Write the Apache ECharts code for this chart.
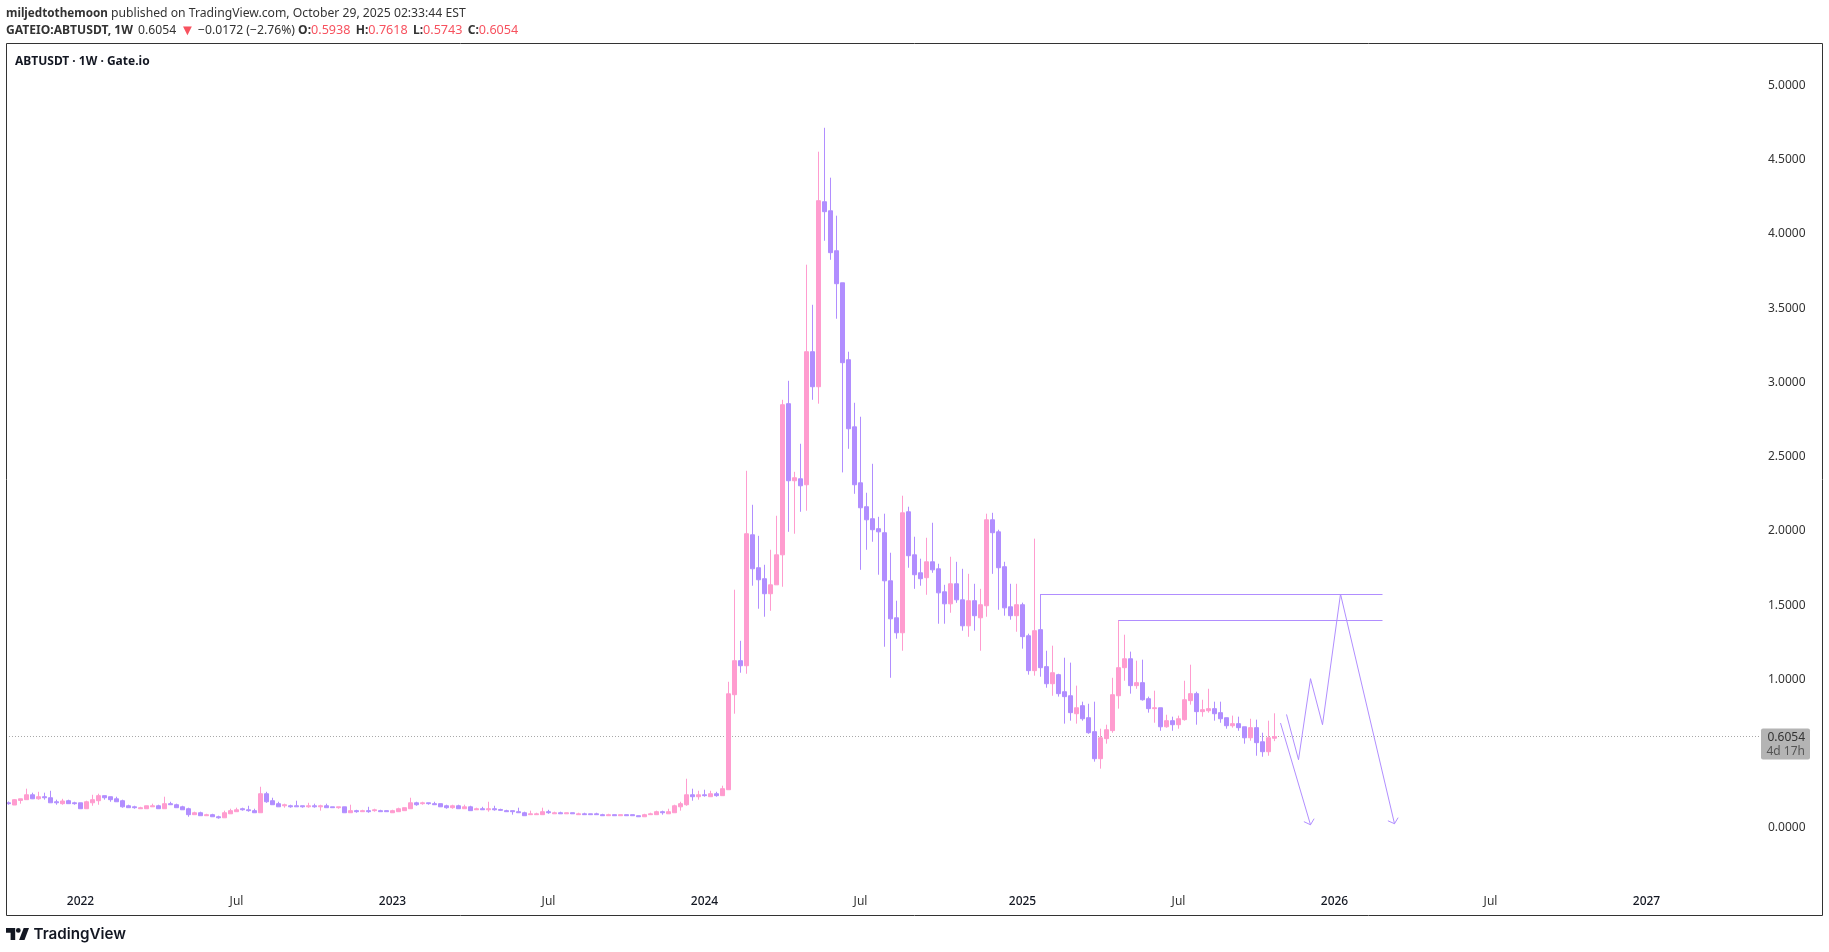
<!DOCTYPE html>
<html>
<head>
<meta charset="utf-8">
<title>ABTUSDT 1W</title>
<script src="https://cdn.jsdelivr.net/npm/echarts@6/dist/echarts.min.js"></script>
<style>
html, body { margin: 0; padding: 0; background: #fff; }
#chart { width: 1829px; height: 952px; }
</style>
</head>
<body>
<div id="chart"></div>
<script>
// weekly candles, [open, close, low, high]
const candles2021 = [
  [.159,.153,.146,.168],[.144,.180,.144,.184],[.175,.186,.153,.186],[.180,.213,.180,.254],[.213,.186,.184,.227],
  [.186,.200,.180,.233],[.200,.193,.180,.227],[.193,.159,.159,.240],[.166,.159,.146,.180],[.153,.171,.146,.186],
  [.173,.153,.153,.180],[.159,.153,.146,.166]
];
const candles2022 = [
  [.159,.119,.119,.159],[.119,.166,.119,.173],[.159,.180,.139,.213],[.173,.207,.146,.220],[.207,.193,.180,.207],
  [.200,.180,.166,.200],[.186,.166,.166,.200],[.173,.132,.126,.180],[.139,.126,.126,.146],[.132,.126,.119,.139],
  [.119,.126,.119,.132],[.119,.139,.119,.139],[.132,.139,.132,.153],[.139,.119,.119,.146],[.119,.153,.119,.200],
  [.153,.146,.146,.166],[.146,.126,.126,.153],[.132,.112,.112,.139],[.119,.079,.065,.126],[.079,.092,.079,.099],
  [.092,.072,.072,.099],[.072,.079,.072,.085],[.079,.065,.065,.085],[.065,.058,.052,.072],[.058,.092,.058,.106],
  [.085,.106,.085,.119],[.099,.112,.099,.126],[.119,.112,.106,.126],[.112,.106,.099,.139],[.106,.092,.092,.119],
  [.092,.220,.092,.267],[.220,.166,.159,.233],[.173,.146,.146,.193],[.153,.132,.132,.166],[.139,.146,.126,.153],
  [.139,.132,.126,.146],[.139,.132,.132,.173],[.139,.132,.126,.139],[.132,.139,.126,.159],[.139,.132,.126,.153],
  [.132,.139,.106,.146],[.139,.126,.126,.153],[.132,.126,.126,.132],[.126,.132,.119,.132],[.132,.092,.092,.132],
  [.092,.106,.092,.146],[.106,.099,.092,.112],[.099,.106,.099,.112],[.106,.099,.092,.132],[.106,.112,.099,.119],
  [.106,.099,.099,.112],[.106,.099,.099,.106]
];
const candles2023 = [
  [.092,.106,.092,.112],[.099,.119,.099,.126],[.106,.126,.106,.126],[.119,.159,.119,.193],[.159,.146,.139,.166],
  [.153,.159,.146,.166],[.159,.153,.146,.159],[.153,.146,.146,.166],[.153,.132,.132,.153],[.139,.126,.119,.146],
  [.126,.139,.119,.146],[.139,.119,.119,.146],[.119,.132,.119,.146],[.132,.106,.106,.139],[.112,.119,.112,.126],
  [.119,.112,.112,.132],[.112,.119,.099,.166],[.119,.112,.106,.139],[.114,.108,.106,.119],[.106,.099,.099,.112],
  [.106,.099,.079,.106],[.099,.092,.092,.126],[.092,.072,.072,.099],[.079,.085,.079,.106],[.079,.085,.079,.092],
  [.079,.099,.079,.126],[.099,.092,.085,.112],[.085,.092,.085,.099],[.092,.085,.085,.099],[.085,.092,.085,.092],
  [.092,.085,.085,.092],[.079,.085,.079,.092],[.085,.079,.079,.092],[.085,.079,.079,.085],[.085,.079,.079,.092],
  [.079,.072,.072,.085],[.072,.079,.072,.085],[.079,.072,.072,.079],[.072,.079,.072,.079],[.079,.072,.072,.079],
  [.079,.072,.072,.079],[.072,.065,.065,.072],[.065,.079,.065,.085],[.079,.085,.079,.092],[.079,.099,.079,.106],
  [.099,.092,.079,.106],[.085,.099,.085,.119],[.092,.139,.092,.146],[.132,.153,.106,.166],[.146,.213,.139,.321],
  [.213,.200,.173,.254],[.200,.213,.180,.240]
];
const candles2024 = [
  [.213,.207,.200,.247],[.200,.220,.200,.240],[.220,.207,.200,.233],[.207,.254,.207,.274],[.247,.893,.247,.974],
  [.887,1.116,.759,1.594],[1.116,1.082,1.035,1.250],[1.082,1.971,1.028,2.395],[1.964,1.735,1.621,2.166],[1.742,1.661,1.466,1.957],
  [1.668,1.567,1.412,1.762],[1.567,1.627,1.452,1.863],[1.627,1.829,1.627,2.092],[1.829,2.840,1.614,2.873],[2.847,2.328,1.984,3.001],
  [2.328,2.348,1.971,2.388],[2.341,2.294,2.119,2.577],[2.301,3.197,2.126,3.783],[3.197,2.961,2.873,3.513],[2.961,4.214,2.847,4.544],
  [4.207,4.140,3.944,4.705],[4.146,3.864,3.816,4.369],[3.877,3.655,3.419,4.113],[3.661,3.123,2.384,3.661],[3.143,2.678,2.543,3.197],
  [2.691,2.301,2.240,2.853],[2.314,2.146,1.728,2.759],[2.153,2.065,1.863,2.247],[2.072,1.998,1.917,2.442],[2.005,1.984,1.695,2.085],
  [1.978,1.654,1.210,2.106],[1.654,1.398,1.001,1.843],[1.405,1.304,1.264,1.520],[1.304,2.112,1.183,2.227],[2.119,1.823,1.742,2.153],
  [1.829,1.695,1.600,1.951],[1.708,1.668,1.621,1.803],[1.675,1.782,1.560,1.944],[1.782,1.728,1.708,2.045],[1.735,1.573,1.365,1.769],
  [1.580,1.499,1.365,1.627],[1.499,1.634,1.439,1.816],[1.634,1.526,1.506,1.782],[1.526,1.351,1.318,1.735],[1.351,1.520,1.277,1.701],
  [1.520,1.419,1.318,1.634],[1.405,1.493,1.183,1.600],[1.486,2.065,1.412,2.106],[2.065,1.978,1.701,2.112],[1.984,1.742,1.459,1.998],
  [1.749,1.472,1.419,1.782],[1.479,1.419,1.392,1.634],[1.419,1.493,1.311,1.634]
];
const candles2025 = [
  [1.493,1.278,1.197,1.507],[1.284,1.049,1.022,1.298],[1.049,1.318,1.015,1.938],[1.325,1.069,1.008,1.565],[1.076,.961,.934,1.183],
  [.961,1.035,.880,1.217],[1.022,.894,.874,1.028],[.907,.874,.692,1.136],[.880,.766,.712,1.103],[.759,.799,.692,.948],
  [.813,.725,.712,.840],[.732,.631,.624,.826],[.638,.456,.436,.840],[.456,.597,.389,.658],[.591,.651,.557,.685],
  [.645,.887,.631,1.001],[.880,1.069,.793,1.390],[1.069,1.129,.981,1.291],[1.129,.948,.894,1.177],[.948,.968,.927,1.116],
  [.968,.853,.847,1.123],[.860,.793,.766,.874],[.793,.799,.698,.914],[.799,.671,.644,.799],[.671,.712,.665,.752],
  [.712,.685,.644,.739],[.685,.725,.658,.746],[.719,.853,.712,.981],[.847,.894,.820,1.089],[.894,.773,.685,.907],
  [.773,.786,.739,.853],[.779,.793,.766,.927],[.793,.759,.712,.840],[.766,.725,.698,.840],[.732,.678,.658,.732],
  [.678,.692,.665,.746],[.692,.665,.644,.739],[.671,.597,.557,.671],[.597,.665,.577,.725],[.665,.564,.476,.719],
  [.570,.503,.469,.631],[.503,.597,.476,.712],[.5938,.6054,.5743,.7618]
];

const priceTicks = [0, .5, 1, 1.5, 2, 2.5, 3, 3.5, 4, 4.5, 5];
const timeTicks = {
  '2022-01-03': '2022', '2022-07-04': 'Jul', '2023-01-02': '2023', '2023-07-03': 'Jul',
  '2024-01-01': '2024', '2024-07-01': 'Jul', '2025-01-06': '2025', '2025-07-07': 'Jul',
  '2026-01-05': '2026', '2026-07-06': 'Jul', '2027-01-04': '2027'
};
const lastPrice = [.6054];

// hand drawn lines, [week index, price]
const rayHigh = [[172, 1.5618], [229, 1.5618]];
const rayLow = [[185, 1.3867], [229, 1.3867]];
const arrowDown = [[212, .696], [217, .011]];
const arrowDownHead = [[215.9, .032], [217, .011], [217.6, .052]];
const pathUpDown = [[213, .754], [215, .449], [217, .995], [219, .685], [222, 1.565], [231, .018]];
const pathUpDownHead = [[229.9, .038], [231, .018], [231.6, .059]];

const PINK = '#ff9ccf';
const PURPLE = '#b18eff';
const FONT = '"Noto Sans", sans-serif';

const candles = [].concat(candles2021, candles2022, candles2023, candles2024, candles2025);
const weeks = [];
for (let i = 0; i < 303; i++) {
  weeks.push(new Date(Date.UTC(2021, 9, 11 + i * 7)).toISOString().slice(0, 10));
}

function drawing(points) {
  return {
    type: 'line', xAxisIndex: 1, data: points, symbol: 'none', silent: true, z: 4,
    lineStyle: { color: PURPLE, width: 1 }
  };
}

const chart = echarts.init(document.getElementById('chart'));
chart.setOption({
  animation: false,
  backgroundColor: '#fff',
  textStyle: { fontFamily: FONT },
  grid: { left: 5.5, width: 1818, top: 43.75, height: 871, containLabel: false },
  xAxis: [
    {
      type: 'category', data: weeks, boundaryGap: true,
      axisLine: { show: false }, axisTick: { show: false }, splitLine: { show: false },
      axisLabel: {
        inside: true, margin: 7, fontSize: 12, fontFamily: FONT, hideOverlap: false,
        interval: (i, v) => v in timeTicks,
        formatter: v => {
          const t = timeTicks[v];
          return t === 'Jul' ? '{m|' + t + '}' : '{y|' + t + '}';
        },
        rich: {
          y: { color: '#131722', fontSize: 12, fontWeight: 500, fontFamily: FONT },
          m: { color: '#333', fontSize: 12, fontFamily: FONT }
        }
      }
    },
    { type: 'value', min: -0.5, max: 302.5, show: false }
  ],
  yAxis: {
    type: 'value', position: 'right', min: -0.595, max: 5.271, scale: true,
    axisLine: { show: false }, axisTick: { show: false }, splitLine: { show: false },
    axisLabel: {
      inside: true, margin: 18, color: '#333', fontSize: 12, fontFamily: FONT,
      customValues: priceTicks, formatter: v => '{v|' + v.toFixed(4) + '}',
      rich: { v: { color: '#333', fontSize: 12, fontFamily: FONT, padding: [3, 0, 0, 0] } }
    }
  },
  series: [
    {
      type: 'line', xAxisIndex: 1, symbol: 'none', silent: true, z: 1,
      data: [[-0.41667, lastPrice[0]], [292, lastPrice[0]]],
      lineStyle: { color: '#a8a8a8', width: 1, type: [1, 2] }
    },
    {
      type: 'candlestick', data: candles, barWidth: 4, z: 3,
      itemStyle: { color: PINK, color0: PURPLE, borderColor: PINK, borderColor0: PURPLE, borderWidth: 1 }
    },
    drawing(rayHigh), drawing(rayLow), drawing(arrowDown), drawing(arrowDownHead),
    drawing(pathUpDown), drawing(pathUpDownHead)
  ]
});

const RED = '#f7525f';
const priceY = chart.convertToPixel({ yAxisIndex: 0 }, lastPrice[0]);
chart.setOption({
  graphic: [
    { type: 'rect', silent: true, z: 10, shape: { x: 6.5, y: 43.5, width: 1816, height: 872 },
      style: { fill: 'none', stroke: '#333', lineWidth: 1 } },
    { type: 'text', silent: true, x: 6, y: 13.5, style: {
      text: '{b|miljedtothemoon}{n| published on TradingView.com, October 29, 2025 02:33:44 EST}',
      fill: '#333', verticalAlign: 'middle',
      rich: { b: { font: 'bold 11.7px ' + FONT, fill: '#333' }, n: { font: '12.2px ' + FONT, fill: '#333' } }
    } },
    { type: 'text', silent: true, x: 6, y: 30.5, style: {
      text: '{b|GATEIO:ABTUSDT, 1W}{s| }{n|0.6054}{t| ▼}{n| −0.0172 (−2.76%) }{b|O:}{r|0.5938}{s| }{b|H:}{r|0.7618}{s| }{b|L:}{r|0.5743}{s| }{b|C:}{r|0.6054}',
      fill: '#333', verticalAlign: 'middle',
      rich: {
        b: { font: 'bold 12.1px ' + FONT, fill: '#333' },
        n: { font: '12.2px ' + FONT, fill: '#333' },
        r: { font: '12.6px ' + FONT, fill: RED },
        t: { font: '15px ' + FONT, fill: RED },
        s: { font: '20px ' + FONT, fill: '#333', lineHeight: 14 }
      }
    } },
    { type: 'text', silent: true, x: 15, y: 61.5, style: {
      text: 'ABTUSDT · 1W · Gate.io', fill: '#131722', font: 'bold 12px ' + FONT, verticalAlign: 'middle'
    } },
    { type: 'rect', silent: true, z: 5, shape: { x: 1761, y: priceY - 8, width: 49, height: 31, r: 2 },
      style: { fill: '#b4b4b4' } },
    { type: 'text', silent: true, z: 6, x: 1805, y: priceY + 1, style: {
      text: '0.6054', fill: '#333', font: '12px ' + FONT, align: 'right', verticalAlign: 'middle'
    } },
    { type: 'text', silent: true, z: 6, x: 1805, y: priceY + 15, style: {
      text: '4d 17h', fill: '#555', font: '12px ' + FONT, align: 'right', verticalAlign: 'middle'
    } },
    // TradingView mark
    { type: 'polygon', silent: true, shape: {
      points: [[6, 928], [15.2, 928], [15.2, 940], [10.6, 940], [10.6, 932.8], [6, 932.8]]
    }, style: { fill: '#131722' } },
    { type: 'polygon', silent: true, shape: {
      points: [[24.5, 940], [19.1, 940], [23.7, 928], [29, 928]]
    }, style: { fill: '#131722' } },
    { type: 'circle', silent: true, shape: { cx: 18.3, cy: 930.4, r: 2.4 }, style: { fill: '#131722' } },
    { type: 'text', silent: true, x: 33.5, y: 934, style: {
      text: 'TradingView', fill: '#131722', font: '600 15.2px Inter, ' + FONT, verticalAlign: 'middle'
    } }
  ]
});
</script>
</body>
</html>
